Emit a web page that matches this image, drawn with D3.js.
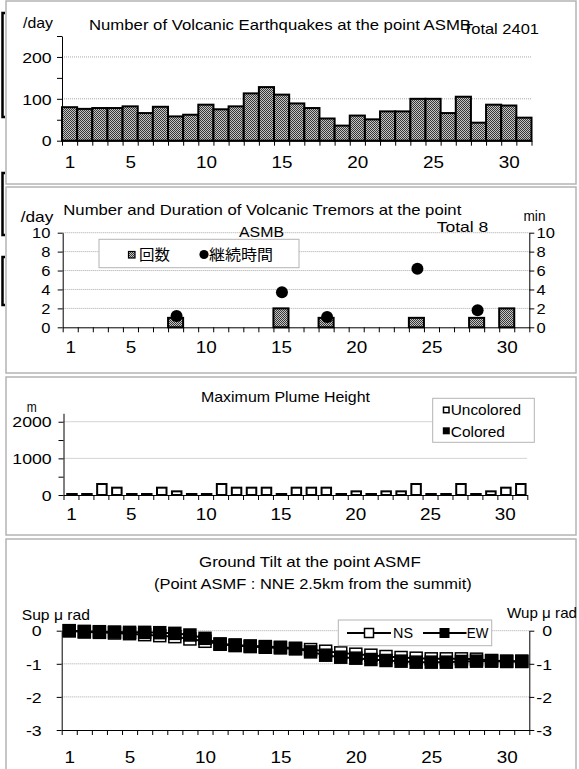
<!DOCTYPE html>
<html>
<head>
<meta charset="utf-8">
<script src="https://cdn.jsdelivr.net/npm/d3@7"></script>
<style>
  body { margin: 0; background: #fff; }
  text { font-family: "Liberation Sans", Arial, sans-serif; fill: #000; }
  .cjk { font-family: "Noto Sans CJK JP", sans-serif; }
</style>
</head>
<body>
<svg id="chart" width="579" height="769"></svg>
<script>
var days = [1, 2, 3, 4, 5, 6, 7, 8, 9, 10, 11, 12, 13, 14, 15, 16,
            17, 18, 19, 20, 21, 22, 23, 24, 25, 26, 27, 28, 29, 30, 31]
  , dayLabels = [1, 5, 10, 15, 20, 25, 30]

  // volcanic earthquakes per day (total 2401)
  , quakes = [80, 76, 78, 78, 82, 66, 81, 58, 62, 86, 75, 82, 113, 128, 110, 89,
              78, 53, 36, 60, 51, 70, 70, 100, 100, 66, 105, 43, 86, 84, 55]
  , quakeTicks = [0, 50, 100, 150, 200, 250]
  , quakeLabels = [0, 100, 200]

  // volcanic tremors: count per day and duration in minutes
  , tremorCount = [null, null, null, null, null, null, null, 1, null, null, null, null, null, null, 2, null,
                   null, 1, null, null, null, null, null, 1, null, null, null, 1, null, 2, null]
  , tremorMinutes = [null, null, null, null, null, null, null, 1.2, null, null, null, null, null, null, 3.7, null,
                     null, 1.1, null, null, null, null, null, 6.2, null, null, null, 1.8, null, null, null]
  , tremorTicks = [0, 2, 4, 6, 8, 10]

  // plume height in metres
  , plumeUncolored = [0, 0, 300, 200, 0, 0, 200, 100, 0, 0, 300, 200, 200, 200, 0, 200,
                      200, 200, 0, 100, 0, 100, 100, 300, 0, 0, 300, 0, 100, 200, 300]
  , plumeColored = [null, null, null, null, null, null, null, null, null, null, null, null, null, null, null, null,
                    null, null, null, null, null, null, null, null, null, null, null, null, null, null, null]
  , plumeTicks = [0, 500, 1000, 1500, 2000]
  , plumeLabels = [0, 1000, 2000]

  // ground tilt, micro radian
  , tiltNS = [0, -0.04, -0.05, -0.07, -0.09, -0.12, -0.15, -0.18, -0.25, -0.32, -0.41, -0.45, -0.48, -0.5, -0.52, -0.55,
              -0.57, -0.62, -0.67, -0.71, -0.74, -0.78, -0.81, -0.83, -0.85, -0.85, -0.85, -0.86, -0.9, -0.92, -0.92]
  , tiltEW = [0, -0.02, -0.03, -0.04, -0.05, -0.05, -0.06, -0.08, -0.13, -0.23, -0.4, -0.43, -0.46, -0.48, -0.5, -0.53,
              -0.64, -0.74, -0.8, -0.83, -0.87, -0.9, -0.92, -0.95, -0.95, -0.95, -0.93, -0.92, -0.92, -0.93, -0.93]
  , tiltTicks = [0, -1, -2, -3]
;

var svg = d3.select('#chart')
  , _fit
  , _stretch
  , _label
  , _grid
  , _xAxis
  , _yAxis
;

_fit = function (sel, w) {
  sel.attr('textLength', w).attr('lengthAdjust', 'spacingAndGlyphs');
};

// widen a text by a factor, the source was drawn a bit wide
_stretch = function (sel, k) {
  sel.each(function () {
    var n = this.getComputedTextLength();
    if (n > 0) d3.select(this).attr('textLength', n * k).attr('lengthAdjust', 'spacingAndGlyphs');
  });
};

_label = function (txt, x, y, w, size, cls) {
  var t = svg.append('text').attr('x', x).attr('y', y)
    .attr('font-size', size || 15).text(txt);
  if (cls) t.attr('class', cls);
  if (w) _fit(t, w);
  return t;
};

_grid = function (vals, y, x0, x1) {
  svg.append('g').selectAll('line').data(vals).enter().append('line')
    .attr('x1', x0).attr('x2', x1)
    .attr('y1', function (d) { return y(d); }).attr('y2', function (d) { return y(d); })
    .attr('stroke', '#a8a8a8').attr('stroke-dasharray', '1,1');
};

// ticks on day edges, labels on day centres
_xAxis = function (x0, x1, y0, base) {
  var xl = d3.scaleLinear().domain([0.5, 31.5]).range([x0, x1])
    , edges = days.map(function (d) { return d - 0.5; }).concat([31.5]);

  svg.append('g').attr('transform', 'translate(0,' + y0 + ')')
    .call(d3.axisBottom(xl).tickValues(edges).tickSize(5).tickSizeOuter(0).tickFormat(''));

  svg.append('g').attr('class', 'xlab').attr('transform', 'translate(0,' + y0 + ')')
    .call(d3.axisBottom(xl).tickValues(dayLabels).tickSize(0).tickFormat(d3.format('d')))
    .call(function (g) { g.select('.domain').remove(); })
    .selectAll('text').attr('y', base - y0).attr('dy', null).attr('font-size', 16);

  return d3.scaleBand().domain(days).range([x0, x1]);
};

_yAxis = function (y, x, ticks, labels, labelX, size, right) {
  var ax = (right ? d3.axisRight(y) : d3.axisLeft(y))
        .tickValues(ticks).tickSize(5).tickSizeOuter(0)
        .tickFormat(function (d) { return labels.indexOf(d) >= 0 ? d : ''; });

  return svg.append('g').attr('class', 'ylab').attr('transform', 'translate(' + x + ',0)')
    .call(ax)
    .selectAll('text').attr('x', labelX - x).attr('dy', '0.35em')
    .attr('text-anchor', 'end').attr('font-size', size);
};

// fill pattern for the count bars
(function () {
  var pat = svg.append('defs').append('pattern').attr('id', 'dots')
    .attr('width', 2).attr('height', 2).attr('patternUnits', 'userSpaceOnUse');
  pat.append('rect').attr('width', 2).attr('height', 2).attr('fill', '#c4c4c4');
  pat.append('rect').attr('width', 1).attr('height', 1).attr('fill', '#383838');
  pat.append('rect').attr('x', 1).attr('y', 1).attr('width', 1).attr('height', 1).attr('fill', '#383838');
})();

// panel frames and the cut-off marks on the left edge
svg.append('g').selectAll('rect')
  .data([[6, 1, 570, 183], [6, 187, 570, 186], [6, 377, 570, 158], [6, 539, 570, 235]])
  .enter().append('rect')
    .attr('x', function (d) { return d[0]; }).attr('y', function (d) { return d[1]; })
    .attr('width', function (d) { return d[2]; }).attr('height', function (d) { return d[3]; })
    .attr('fill', 'none').attr('stroke', '#b4b4b4').attr('stroke-width', 1.5);

svg.append('g').selectAll('path')
  .data([[13, 117], [173, 235], [257, 305]])
  .enter().append('path')
    .attr('d', function (d) { return 'M5,' + d[0] + 'H2.5V' + d[1] + 'H5'; })
    .attr('fill', 'none').attr('stroke', '#000').attr('stroke-width', 2.5);

// ---- panel 1 : volcanic earthquakes
(function () {
  var y = d3.scaleLinear().domain([0, 250]).range([140.7, 36])
    , x;

  _grid([100, 200], y, 62, 531.5);
  x = _xAxis(62, 531.5, 140.7, 168.3);
  _yAxis(y, 62, quakeTicks, quakeLabels, 51.7, 15);

  svg.append('g').selectAll('rect').data(quakes).enter().append('rect')
    .attr('x', function (d, i) { return x(days[i]); })
    .attr('width', x.bandwidth())
    .attr('y', function (d) { return y(d); })
    .attr('height', function (d) { return y(0) - y(d); })
    .attr('fill', 'url(#dots)').attr('stroke', '#000').attr('stroke-width', 2);

  _label('/day', 23, 28, 30);
  _label('Number of Volcanic Earthquakes at the point ASMB', 89, 30, 382);
  _label('Total 2401', 463, 33.5, 76);
})();

// ---- panel 2 : volcanic tremors
(function () {
  var y = d3.scaleLinear().domain([0, 10]).range([327.3, 232.7])
    , yr = d3.scaleLinear().domain([0, 10]).range([327.3, 232.7])
    , x, lg;

  _grid([2, 4, 6, 8, 10], y, 62.7, 529.3);
  x = _xAxis(62.7, 529.3, 327.3, 353.3);
  _yAxis(y, 62.7, tremorTicks, tremorTicks, 50.5, 14);
  _yAxis(yr, 529.3, tremorTicks, tremorTicks, 536.5, 14, true).attr('text-anchor', 'start');

  svg.append('g').selectAll('rect')
    .data(tremorCount.map(function (v, i) { return { day: days[i], v: v }; })
      .filter(function (d) { return d.v !== null; }))
    .enter().append('rect')
      .attr('x', function (d) { return x(d.day); })
      .attr('width', x.bandwidth())
      .attr('y', function (d) { return y(d.v); })
      .attr('height', function (d) { return y(0) - y(d.v); })
      .attr('fill', 'url(#dots)').attr('stroke', '#000').attr('stroke-width', 2);

  svg.append('g').selectAll('circle')
    .data(tremorMinutes.map(function (v, i) { return { day: days[i], v: v }; })
      .filter(function (d) { return d.v !== null; }))
    .enter().append('circle')
      .attr('cx', function (d) { return x(d.day) + x.bandwidth() / 2 + 1; })
      .attr('cy', function (d) { return yr(d.v); })
      .attr('r', 6).attr('fill', '#000');

  lg = svg.append('g');
  lg.append('rect').attr('x', 99).attr('y', 239.3).attr('width', 200).attr('height', 28.4)
    .attr('fill', '#fff').attr('stroke', '#b4b4b4');
  lg.append('rect').attr('x', 128.5).attr('y', 251.5).attr('width', 6.5).attr('height', 6.5)
    .attr('fill', 'url(#dots)').attr('stroke', '#000').attr('stroke-width', 1.2);
  lg.append('circle').attr('cx', 204).attr('cy', 254.5).attr('r', 4.6).attr('fill', '#000');

  _label('回数', 139, 260, 31, 15, 'cjk');
  _label('継続時間', 209, 260, 64, 15, 'cjk');
  _label('/day', 20.7, 221.7, 32.6);
  _label('Number and Duration of Volcanic Tremors at the point', 63.3, 215, 398);
  _label('ASMB', 239, 237.3, 45);
  _label('Total 8', 436.7, 231.7, 51.6);
  _label('min', 523.5, 221, 22);
})();

// ---- panel 3 : maximum plume height
(function () {
  var y = d3.scaleLinear().domain([0, 2230]).range([495, 413.3])
    , x, bw = 9.5, lg;

  _grid([1000, 2000], y, 63.5, 527.3);
  x = _xAxis(63.5, 527.3, 495, 519.5);
  _yAxis(y, 63.5, plumeTicks, plumeLabels, 51.7, 15);

  // a zero day still shows as a flat outline on the axis
  [[plumeUncolored, '#fff'], [plumeColored, '#000']].forEach(function (s) {
    svg.append('g').selectAll('rect')
      .data(s[0].map(function (v, i) { return { day: days[i], v: v }; })
        .filter(function (d) { return d.v !== null; }))
      .enter().append('rect')
        .attr('x', function (d) { return x(d.day) + (x.bandwidth() - bw) / 2 + 1; })
        .attr('width', bw)
        .attr('y', function (d) { return Math.min(y(d.v), y(0) - 1); })
        .attr('height', function (d) { return Math.max(y(0) - y(d.v), 1); })
        .attr('fill', s[1]).attr('stroke', '#000').attr('stroke-width', 2);
  });

  lg = svg.append('g');
  lg.append('rect').attr('x', 432.7).attr('y', 398.3).attr('width', 101.6).attr('height', 44)
    .attr('fill', '#fff').attr('stroke', '#b4b4b4');
  lg.append('rect').attr('x', 443.5).attr('y', 407.2).attr('width', 5.5).attr('height', 5.5)
    .attr('fill', '#fff').attr('stroke', '#000').attr('stroke-width', 1.5);
  lg.append('rect').attr('x', 442.8).attr('y', 427.3).attr('width', 7).attr('height', 7).attr('fill', '#000');

  _label('Uncolored', 450.7, 415, 70.3);
  _label('Colored', 450.7, 436.7, 54.3);
  _label('m', 26.7, 411.7, 10);
  _label('Maximum Plume Height', 201, 401.7, 169);
})();

// ---- panel 4 : ground tilt
(function () {
  var y = d3.scaleLinear().domain([-3, 0]).range([730, 630.7])
    , x, cx, line, lg, ms = 12;

  _grid([0, -1, -2], y, 61.7, 529.3);
  x = _xAxis(61.7, 529.3, 730, 762.5);
  _yAxis(y, 61.7, tiltTicks, tiltTicks, 41.7, 15);
  _yAxis(y, 529.3, tiltTicks, tiltTicks, 552, 15, true);

  cx = function (d, i) { return x(days[i]) + x.bandwidth() / 2; };
  line = d3.line().x(cx).y(function (d) { return y(d); });

  [[tiltNS, '#fff'], [tiltEW, '#000']].forEach(function (s) {
    var g = svg.append('g');
    g.append('path').datum(s[0]).attr('d', line)
      .attr('fill', 'none').attr('stroke', '#000').attr('stroke-width', 2);
    g.selectAll('rect').data(s[0]).enter().append('rect')
      .attr('x', function (d, i) { return cx(d, i) - ms / 2; })
      .attr('y', function (d) { return y(d) - ms / 2; })
      .attr('width', ms).attr('height', ms)
      .attr('fill', s[1]).attr('stroke', '#000').attr('stroke-width', 1.5);
  });

  lg = svg.append('g');
  lg.append('rect').attr('x', 338.3).attr('y', 620).attr('width', 153.4).attr('height', 25.7)
    .attr('fill', '#fff').attr('stroke', '#b4b4b4');
  lg.append('line').attr('x1', 347).attr('x2', 391).attr('y1', 633).attr('y2', 633)
    .attr('stroke', '#000').attr('stroke-width', 2);
  lg.append('rect').attr('x', 364.5).attr('y', 628.5).attr('width', 9).attr('height', 9)
    .attr('fill', '#fff').attr('stroke', '#000').attr('stroke-width', 1.5);
  lg.append('line').attr('x1', 423).attr('x2', 466.5).attr('y1', 633).attr('y2', 633)
    .attr('stroke', '#000').attr('stroke-width', 2);
  lg.append('rect').attr('x', 439.5).attr('y', 628).attr('width', 10).attr('height', 10).attr('fill', '#000');

  _label('NS', 393, 638.3, 20);
  _label('EW', 466.7, 638.3, 21.6);
  _label('Ground Tilt at the point ASMF', 199, 567, 221.7);
  _label('(Point ASMF : NNE 2.5km from the summit)', 154, 589.3, 317.7);
  _label('Sup μ rad', 21.7, 620, 68.3);
  _label('Wup μ rad', 507, 618.3, 70);
})();

_stretch(svg.selectAll('.xlab text'), 1.18);
_stretch(svg.selectAll('.ylab text'), 1.18);
</script>
</body>
</html>
